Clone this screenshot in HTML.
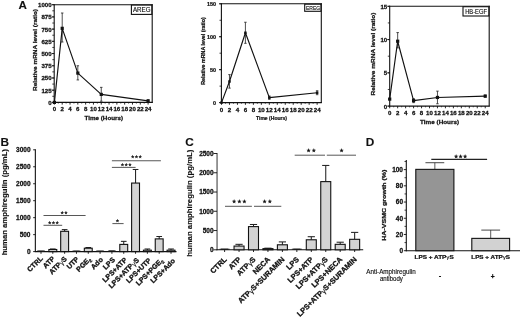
<!DOCTYPE html>
<html lang="en">
<head>
<meta charset="utf-8">
<title>Figure</title>
<style>
html,body{margin:0;padding:0;background:#fff;}
body{width:520px;height:317px;overflow:hidden;font-family:"Liberation Sans", Arial, sans-serif;}
svg{display:block;font-family:"Liberation Sans", Arial, sans-serif;filter:blur(0.35px);}
</style>
</head>
<body>
<svg width="520" height="317" viewBox="0 0 520 317">
<rect width="520" height="317" fill="#fff"/>
<g id="panelA">
<text x="22.75" y="9.00" font-size="11.6" font-weight="bold" text-anchor="middle" fill="#111" stroke="#111" stroke-width="0.120" >A</text>
<line x1="54.20" y1="4.20" x2="54.20" y2="102.90" stroke="#111" stroke-width="1.1" />
<line x1="53.70" y1="102.40" x2="152.70" y2="102.40" stroke="#111" stroke-width="1.1" />
<line x1="53.70" y1="4.70" x2="152.70" y2="4.70" stroke="#111" stroke-width="1.1" />
<line x1="152.20" y1="4.20" x2="152.20" y2="102.90" stroke="#111" stroke-width="1.1" />
<line x1="51.80" y1="102.40" x2="54.20" y2="102.40" stroke="#111" stroke-width="0.9" />
<text x="51.60" y="104.90" font-size="6.1" font-weight="bold" text-anchor="end" fill="#111" stroke="#111" stroke-width="0.256" >0</text>
<line x1="51.80" y1="90.19" x2="54.20" y2="90.19" stroke="#111" stroke-width="0.9" />
<text x="51.60" y="92.68" font-size="6.1" font-weight="bold" text-anchor="end" fill="#111" stroke="#111" stroke-width="0.256" >125</text>
<line x1="51.80" y1="77.98" x2="54.20" y2="77.98" stroke="#111" stroke-width="0.9" />
<text x="51.60" y="80.47" font-size="6.1" font-weight="bold" text-anchor="end" fill="#111" stroke="#111" stroke-width="0.256" >250</text>
<line x1="51.80" y1="65.76" x2="54.20" y2="65.76" stroke="#111" stroke-width="0.9" />
<text x="51.60" y="68.26" font-size="6.1" font-weight="bold" text-anchor="end" fill="#111" stroke="#111" stroke-width="0.256" >375</text>
<line x1="51.80" y1="53.55" x2="54.20" y2="53.55" stroke="#111" stroke-width="0.9" />
<text x="51.60" y="56.05" font-size="6.1" font-weight="bold" text-anchor="end" fill="#111" stroke="#111" stroke-width="0.256" >500</text>
<line x1="51.80" y1="41.34" x2="54.20" y2="41.34" stroke="#111" stroke-width="0.9" />
<text x="51.60" y="43.83" font-size="6.1" font-weight="bold" text-anchor="end" fill="#111" stroke="#111" stroke-width="0.256" >625</text>
<line x1="51.80" y1="29.12" x2="54.20" y2="29.12" stroke="#111" stroke-width="0.9" />
<text x="51.60" y="31.62" font-size="6.1" font-weight="bold" text-anchor="end" fill="#111" stroke="#111" stroke-width="0.256" >750</text>
<line x1="51.80" y1="16.91" x2="54.20" y2="16.91" stroke="#111" stroke-width="0.9" />
<text x="51.60" y="19.41" font-size="6.1" font-weight="bold" text-anchor="end" fill="#111" stroke="#111" stroke-width="0.256" >875</text>
<line x1="51.80" y1="4.70" x2="54.20" y2="4.70" stroke="#111" stroke-width="0.9" />
<text x="51.60" y="7.20" font-size="6.1" font-weight="bold" text-anchor="end" fill="#111" stroke="#111" stroke-width="0.256" >1000</text>
<line x1="52.30" y1="102.40" x2="54.20" y2="102.40" stroke="#111" stroke-width="0.8" />
<line x1="52.30" y1="96.29" x2="54.20" y2="96.29" stroke="#111" stroke-width="0.8" />
<line x1="52.30" y1="90.19" x2="54.20" y2="90.19" stroke="#111" stroke-width="0.8" />
<line x1="52.30" y1="84.08" x2="54.20" y2="84.08" stroke="#111" stroke-width="0.8" />
<line x1="52.30" y1="77.98" x2="54.20" y2="77.98" stroke="#111" stroke-width="0.8" />
<line x1="52.30" y1="71.87" x2="54.20" y2="71.87" stroke="#111" stroke-width="0.8" />
<line x1="52.30" y1="65.76" x2="54.20" y2="65.76" stroke="#111" stroke-width="0.8" />
<line x1="52.30" y1="59.66" x2="54.20" y2="59.66" stroke="#111" stroke-width="0.8" />
<line x1="52.30" y1="53.55" x2="54.20" y2="53.55" stroke="#111" stroke-width="0.8" />
<line x1="52.30" y1="47.44" x2="54.20" y2="47.44" stroke="#111" stroke-width="0.8" />
<line x1="52.30" y1="41.34" x2="54.20" y2="41.34" stroke="#111" stroke-width="0.8" />
<line x1="52.30" y1="35.23" x2="54.20" y2="35.23" stroke="#111" stroke-width="0.8" />
<line x1="52.30" y1="29.12" x2="54.20" y2="29.12" stroke="#111" stroke-width="0.8" />
<line x1="52.30" y1="23.02" x2="54.20" y2="23.02" stroke="#111" stroke-width="0.8" />
<line x1="52.30" y1="16.91" x2="54.20" y2="16.91" stroke="#111" stroke-width="0.8" />
<line x1="52.30" y1="10.81" x2="54.20" y2="10.81" stroke="#111" stroke-width="0.8" />
<line x1="52.30" y1="4.70" x2="54.20" y2="4.70" stroke="#111" stroke-width="0.8" />
<line x1="54.40" y1="102.40" x2="54.40" y2="104.60" stroke="#111" stroke-width="0.9" />
<text x="54.40" y="111.20" font-size="6.1" font-weight="bold" text-anchor="middle" fill="#111" stroke="#111" stroke-width="0.256" >0</text>
<line x1="62.21" y1="102.40" x2="62.21" y2="104.60" stroke="#111" stroke-width="0.9" />
<text x="62.21" y="111.20" font-size="6.1" font-weight="bold" text-anchor="middle" fill="#111" stroke="#111" stroke-width="0.256" >2</text>
<line x1="70.02" y1="102.40" x2="70.02" y2="104.60" stroke="#111" stroke-width="0.9" />
<text x="70.02" y="111.20" font-size="6.1" font-weight="bold" text-anchor="middle" fill="#111" stroke="#111" stroke-width="0.256" >4</text>
<line x1="77.82" y1="102.40" x2="77.82" y2="104.60" stroke="#111" stroke-width="0.9" />
<text x="77.82" y="111.20" font-size="6.1" font-weight="bold" text-anchor="middle" fill="#111" stroke="#111" stroke-width="0.256" >6</text>
<line x1="85.63" y1="102.40" x2="85.63" y2="104.60" stroke="#111" stroke-width="0.9" />
<text x="85.63" y="111.20" font-size="6.1" font-weight="bold" text-anchor="middle" fill="#111" stroke="#111" stroke-width="0.256" >8</text>
<line x1="93.44" y1="102.40" x2="93.44" y2="104.60" stroke="#111" stroke-width="0.9" />
<text x="93.44" y="111.20" font-size="6.1" font-weight="bold" text-anchor="middle" fill="#111" stroke="#111" stroke-width="0.256" >10</text>
<line x1="101.25" y1="102.40" x2="101.25" y2="104.60" stroke="#111" stroke-width="0.9" />
<text x="101.25" y="111.20" font-size="6.1" font-weight="bold" text-anchor="middle" fill="#111" stroke="#111" stroke-width="0.256" >12</text>
<line x1="109.06" y1="102.40" x2="109.06" y2="104.60" stroke="#111" stroke-width="0.9" />
<text x="109.06" y="111.20" font-size="6.1" font-weight="bold" text-anchor="middle" fill="#111" stroke="#111" stroke-width="0.256" >14</text>
<line x1="116.86" y1="102.40" x2="116.86" y2="104.60" stroke="#111" stroke-width="0.9" />
<text x="116.86" y="111.20" font-size="6.1" font-weight="bold" text-anchor="middle" fill="#111" stroke="#111" stroke-width="0.256" >16</text>
<line x1="124.67" y1="102.40" x2="124.67" y2="104.60" stroke="#111" stroke-width="0.9" />
<text x="124.67" y="111.20" font-size="6.1" font-weight="bold" text-anchor="middle" fill="#111" stroke="#111" stroke-width="0.256" >18</text>
<line x1="132.48" y1="102.40" x2="132.48" y2="104.60" stroke="#111" stroke-width="0.9" />
<text x="132.48" y="111.20" font-size="6.1" font-weight="bold" text-anchor="middle" fill="#111" stroke="#111" stroke-width="0.256" >20</text>
<line x1="140.29" y1="102.40" x2="140.29" y2="104.60" stroke="#111" stroke-width="0.9" />
<text x="140.29" y="111.20" font-size="6.1" font-weight="bold" text-anchor="middle" fill="#111" stroke="#111" stroke-width="0.256" >22</text>
<line x1="148.10" y1="102.40" x2="148.10" y2="104.60" stroke="#111" stroke-width="0.9" />
<text x="148.10" y="111.20" font-size="6.1" font-weight="bold" text-anchor="middle" fill="#111" stroke="#111" stroke-width="0.256" >24</text>
<line x1="58.30" y1="102.40" x2="58.30" y2="103.70" stroke="#111" stroke-width="0.6" />
<line x1="66.11" y1="102.40" x2="66.11" y2="103.70" stroke="#111" stroke-width="0.6" />
<line x1="73.92" y1="102.40" x2="73.92" y2="103.70" stroke="#111" stroke-width="0.6" />
<line x1="81.73" y1="102.40" x2="81.73" y2="103.70" stroke="#111" stroke-width="0.6" />
<line x1="89.54" y1="102.40" x2="89.54" y2="103.70" stroke="#111" stroke-width="0.6" />
<line x1="97.34" y1="102.40" x2="97.34" y2="103.70" stroke="#111" stroke-width="0.6" />
<line x1="105.15" y1="102.40" x2="105.15" y2="103.70" stroke="#111" stroke-width="0.6" />
<line x1="112.96" y1="102.40" x2="112.96" y2="103.70" stroke="#111" stroke-width="0.6" />
<line x1="120.77" y1="102.40" x2="120.77" y2="103.70" stroke="#111" stroke-width="0.6" />
<line x1="128.58" y1="102.40" x2="128.58" y2="103.70" stroke="#111" stroke-width="0.6" />
<line x1="136.38" y1="102.40" x2="136.38" y2="103.70" stroke="#111" stroke-width="0.6" />
<line x1="144.19" y1="102.40" x2="144.19" y2="103.70" stroke="#111" stroke-width="0.6" />
<text x="103.80" y="119.70" font-size="6.1" font-weight="bold" text-anchor="middle" fill="#111" stroke="#111" stroke-width="0.256" textLength="38.50" lengthAdjust="spacingAndGlyphs" >Time (Hours)</text>
<text x="35.30" y="50.00" font-size="6.1" font-weight="bold" text-anchor="middle" fill="#111" stroke="#111" stroke-width="0.256" transform="rotate(-90 35.30 50.00)" textLength="82.00" lengthAdjust="spacingAndGlyphs" dy="0.36em">Relative mRNA level (ratio)</text>
<line x1="54.40" y1="102.40" x2="54.40" y2="102.40" stroke="#222" stroke-width="0.8" />
<line x1="53.15" y1="102.40" x2="55.65" y2="102.40" stroke="#222" stroke-width="0.8" />
<line x1="53.15" y1="102.40" x2="55.65" y2="102.40" stroke="#222" stroke-width="0.8" />
<line x1="62.21" y1="13.00" x2="62.21" y2="42.02" stroke="#222" stroke-width="0.8" />
<line x1="60.96" y1="13.00" x2="63.46" y2="13.00" stroke="#222" stroke-width="0.8" />
<line x1="60.96" y1="42.02" x2="63.46" y2="42.02" stroke="#222" stroke-width="0.8" />
<line x1="77.82" y1="65.76" x2="77.82" y2="79.93" stroke="#222" stroke-width="0.8" />
<line x1="76.57" y1="65.76" x2="79.07" y2="65.76" stroke="#222" stroke-width="0.8" />
<line x1="76.57" y1="79.93" x2="79.07" y2="79.93" stroke="#222" stroke-width="0.8" />
<line x1="101.25" y1="87.35" x2="101.25" y2="101.23" stroke="#222" stroke-width="0.8" />
<line x1="100.00" y1="87.35" x2="102.50" y2="87.35" stroke="#222" stroke-width="0.8" />
<line x1="100.00" y1="101.23" x2="102.50" y2="101.23" stroke="#222" stroke-width="0.8" />
<line x1="148.10" y1="99.76" x2="148.10" y2="101.91" stroke="#222" stroke-width="0.8" />
<line x1="146.85" y1="99.76" x2="149.35" y2="99.76" stroke="#222" stroke-width="0.8" />
<line x1="146.85" y1="101.91" x2="149.35" y2="101.91" stroke="#222" stroke-width="0.8" />
<path d="M54.40 102.40 L62.21 28.34 L77.82 73.09 L101.25 94.39 L148.10 100.93" fill="none" stroke="#111" stroke-width="1.15" stroke-linejoin="round"/>
<rect x="52.80" y="100.80" width="3.2" height="3.2" fill="#111"/>
<rect x="60.61" y="26.74" width="3.2" height="3.2" fill="#111"/>
<rect x="76.22" y="71.49" width="3.2" height="3.2" fill="#111"/>
<rect x="99.65" y="92.79" width="3.2" height="3.2" fill="#111"/>
<rect x="146.50" y="99.33" width="3.2" height="3.2" fill="#111"/>
<rect x="131.40" y="5.10" width="20.40" height="9.30" fill="#fff" stroke="#111" stroke-width="1.1"/>
<text x="141.75" y="12.20" font-size="6.4" font-weight="normal" text-anchor="middle" fill="#111" stroke="#111" stroke-width="0.141" textLength="17.50" lengthAdjust="spacingAndGlyphs" >AREG</text>
</g>
<g id="panelA2">
<line x1="221.40" y1="3.30" x2="221.40" y2="103.10" stroke="#111" stroke-width="1.1" />
<line x1="220.90" y1="102.60" x2="321.80" y2="102.60" stroke="#111" stroke-width="1.1" />
<line x1="220.90" y1="3.80" x2="321.80" y2="3.80" stroke="#111" stroke-width="1.1" />
<line x1="321.30" y1="3.30" x2="321.30" y2="103.10" stroke="#111" stroke-width="1.1" />
<line x1="219.00" y1="102.60" x2="221.40" y2="102.60" stroke="#111" stroke-width="0.9" />
<text x="216.00" y="104.84" font-size="5.4" font-weight="bold" text-anchor="end" fill="#111" stroke="#111" stroke-width="0.227" >0</text>
<line x1="219.00" y1="69.67" x2="221.40" y2="69.67" stroke="#111" stroke-width="0.9" />
<text x="216.00" y="71.91" font-size="5.4" font-weight="bold" text-anchor="end" fill="#111" stroke="#111" stroke-width="0.227" >50</text>
<line x1="219.00" y1="36.73" x2="221.40" y2="36.73" stroke="#111" stroke-width="0.9" />
<text x="216.00" y="38.98" font-size="5.4" font-weight="bold" text-anchor="end" fill="#111" stroke="#111" stroke-width="0.227" >100</text>
<line x1="219.00" y1="3.80" x2="221.40" y2="3.80" stroke="#111" stroke-width="0.9" />
<text x="216.00" y="6.04" font-size="5.4" font-weight="bold" text-anchor="end" fill="#111" stroke="#111" stroke-width="0.227" >150</text>
<line x1="219.50" y1="102.60" x2="221.40" y2="102.60" stroke="#111" stroke-width="0.8" />
<line x1="219.50" y1="86.13" x2="221.40" y2="86.13" stroke="#111" stroke-width="0.8" />
<line x1="219.50" y1="69.67" x2="221.40" y2="69.67" stroke="#111" stroke-width="0.8" />
<line x1="219.50" y1="53.20" x2="221.40" y2="53.20" stroke="#111" stroke-width="0.8" />
<line x1="219.50" y1="36.73" x2="221.40" y2="36.73" stroke="#111" stroke-width="0.8" />
<line x1="219.50" y1="20.27" x2="221.40" y2="20.27" stroke="#111" stroke-width="0.8" />
<line x1="219.50" y1="3.80" x2="221.40" y2="3.80" stroke="#111" stroke-width="0.8" />
<line x1="221.50" y1="102.60" x2="221.50" y2="104.80" stroke="#111" stroke-width="0.9" />
<text x="221.50" y="111.73" font-size="6.2" font-weight="bold" text-anchor="middle" fill="#111" stroke="#111" stroke-width="0.260" >0</text>
<line x1="229.47" y1="102.60" x2="229.47" y2="104.80" stroke="#111" stroke-width="0.9" />
<text x="229.47" y="111.73" font-size="6.2" font-weight="bold" text-anchor="middle" fill="#111" stroke="#111" stroke-width="0.260" >2</text>
<line x1="237.44" y1="102.60" x2="237.44" y2="104.80" stroke="#111" stroke-width="0.9" />
<text x="237.44" y="111.73" font-size="6.2" font-weight="bold" text-anchor="middle" fill="#111" stroke="#111" stroke-width="0.260" >4</text>
<line x1="245.41" y1="102.60" x2="245.41" y2="104.80" stroke="#111" stroke-width="0.9" />
<text x="245.41" y="111.73" font-size="6.2" font-weight="bold" text-anchor="middle" fill="#111" stroke="#111" stroke-width="0.260" >6</text>
<line x1="253.38" y1="102.60" x2="253.38" y2="104.80" stroke="#111" stroke-width="0.9" />
<text x="253.38" y="111.73" font-size="6.2" font-weight="bold" text-anchor="middle" fill="#111" stroke="#111" stroke-width="0.260" >8</text>
<line x1="261.35" y1="102.60" x2="261.35" y2="104.80" stroke="#111" stroke-width="0.9" />
<text x="261.35" y="111.73" font-size="6.2" font-weight="bold" text-anchor="middle" fill="#111" stroke="#111" stroke-width="0.260" >10</text>
<line x1="269.32" y1="102.60" x2="269.32" y2="104.80" stroke="#111" stroke-width="0.9" />
<text x="269.32" y="111.73" font-size="6.2" font-weight="bold" text-anchor="middle" fill="#111" stroke="#111" stroke-width="0.260" >12</text>
<line x1="277.29" y1="102.60" x2="277.29" y2="104.80" stroke="#111" stroke-width="0.9" />
<text x="277.29" y="111.73" font-size="6.2" font-weight="bold" text-anchor="middle" fill="#111" stroke="#111" stroke-width="0.260" >14</text>
<line x1="285.26" y1="102.60" x2="285.26" y2="104.80" stroke="#111" stroke-width="0.9" />
<text x="285.26" y="111.73" font-size="6.2" font-weight="bold" text-anchor="middle" fill="#111" stroke="#111" stroke-width="0.260" >16</text>
<line x1="293.23" y1="102.60" x2="293.23" y2="104.80" stroke="#111" stroke-width="0.9" />
<text x="293.23" y="111.73" font-size="6.2" font-weight="bold" text-anchor="middle" fill="#111" stroke="#111" stroke-width="0.260" >18</text>
<line x1="301.20" y1="102.60" x2="301.20" y2="104.80" stroke="#111" stroke-width="0.9" />
<text x="301.20" y="111.73" font-size="6.2" font-weight="bold" text-anchor="middle" fill="#111" stroke="#111" stroke-width="0.260" >20</text>
<line x1="309.17" y1="102.60" x2="309.17" y2="104.80" stroke="#111" stroke-width="0.9" />
<text x="309.17" y="111.73" font-size="6.2" font-weight="bold" text-anchor="middle" fill="#111" stroke="#111" stroke-width="0.260" >22</text>
<line x1="317.14" y1="102.60" x2="317.14" y2="104.80" stroke="#111" stroke-width="0.9" />
<text x="317.14" y="111.73" font-size="6.2" font-weight="bold" text-anchor="middle" fill="#111" stroke="#111" stroke-width="0.260" >24</text>
<line x1="225.49" y1="102.60" x2="225.49" y2="103.90" stroke="#111" stroke-width="0.6" />
<line x1="233.46" y1="102.60" x2="233.46" y2="103.90" stroke="#111" stroke-width="0.6" />
<line x1="241.43" y1="102.60" x2="241.43" y2="103.90" stroke="#111" stroke-width="0.6" />
<line x1="249.40" y1="102.60" x2="249.40" y2="103.90" stroke="#111" stroke-width="0.6" />
<line x1="257.37" y1="102.60" x2="257.37" y2="103.90" stroke="#111" stroke-width="0.6" />
<line x1="265.33" y1="102.60" x2="265.33" y2="103.90" stroke="#111" stroke-width="0.6" />
<line x1="273.31" y1="102.60" x2="273.31" y2="103.90" stroke="#111" stroke-width="0.6" />
<line x1="281.27" y1="102.60" x2="281.27" y2="103.90" stroke="#111" stroke-width="0.6" />
<line x1="289.25" y1="102.60" x2="289.25" y2="103.90" stroke="#111" stroke-width="0.6" />
<line x1="297.22" y1="102.60" x2="297.22" y2="103.90" stroke="#111" stroke-width="0.6" />
<line x1="305.19" y1="102.60" x2="305.19" y2="103.90" stroke="#111" stroke-width="0.6" />
<line x1="313.15" y1="102.60" x2="313.15" y2="103.90" stroke="#111" stroke-width="0.6" />
<text x="271.50" y="119.71" font-size="5.3" font-weight="bold" text-anchor="middle" fill="#111" stroke="#111" stroke-width="0.223" textLength="31.00" lengthAdjust="spacingAndGlyphs" >Time (Hours)</text>
<text x="203.00" y="51.00" font-size="5.3" font-weight="bold" text-anchor="middle" fill="#111" stroke="#111" stroke-width="0.223" transform="rotate(-90 203.00 51.00)" textLength="67.50" lengthAdjust="spacingAndGlyphs" dy="0.36em">Relative mRNA level (ratio)</text>
<line x1="221.50" y1="102.60" x2="221.50" y2="102.60" stroke="#222" stroke-width="0.8" />
<line x1="220.25" y1="102.60" x2="222.75" y2="102.60" stroke="#222" stroke-width="0.8" />
<line x1="220.25" y1="102.60" x2="222.75" y2="102.60" stroke="#222" stroke-width="0.8" />
<line x1="229.47" y1="74.61" x2="229.47" y2="88.11" stroke="#222" stroke-width="0.8" />
<line x1="228.22" y1="74.61" x2="230.72" y2="74.61" stroke="#222" stroke-width="0.8" />
<line x1="228.22" y1="88.11" x2="230.72" y2="88.11" stroke="#222" stroke-width="0.8" />
<line x1="245.41" y1="22.24" x2="245.41" y2="43.32" stroke="#222" stroke-width="0.8" />
<line x1="244.16" y1="22.24" x2="246.66" y2="22.24" stroke="#222" stroke-width="0.8" />
<line x1="244.16" y1="43.32" x2="246.66" y2="43.32" stroke="#222" stroke-width="0.8" />
<line x1="269.32" y1="96.01" x2="269.32" y2="99.31" stroke="#222" stroke-width="0.8" />
<line x1="268.07" y1="96.01" x2="270.57" y2="96.01" stroke="#222" stroke-width="0.8" />
<line x1="268.07" y1="99.31" x2="270.57" y2="99.31" stroke="#222" stroke-width="0.8" />
<line x1="317.14" y1="90.74" x2="317.14" y2="94.70" stroke="#222" stroke-width="0.8" />
<line x1="315.89" y1="90.74" x2="318.39" y2="90.74" stroke="#222" stroke-width="0.8" />
<line x1="315.89" y1="94.70" x2="318.39" y2="94.70" stroke="#222" stroke-width="0.8" />
<path d="M221.50 102.60 L229.47 81.52 L245.41 32.78 L269.32 97.66 L317.14 92.72" fill="none" stroke="#111" stroke-width="1.15" stroke-linejoin="round"/>
<rect x="220.25" y="101.35" width="2.5" height="2.5" fill="#111"/>
<rect x="228.22" y="80.27" width="2.5" height="2.5" fill="#111"/>
<rect x="244.16" y="31.53" width="2.5" height="2.5" fill="#111"/>
<rect x="268.07" y="96.41" width="2.5" height="2.5" fill="#111"/>
<rect x="315.89" y="91.47" width="2.5" height="2.5" fill="#111"/>
<rect x="304.70" y="4.20" width="16.20" height="7.10" fill="#fff" stroke="#111" stroke-width="1.1"/>
<text x="313.10" y="9.82" font-size="5.9" font-weight="normal" text-anchor="middle" fill="#111" stroke="#111" stroke-width="0.130" textLength="14.20" lengthAdjust="spacingAndGlyphs" >EREG</text>
</g>
<g id="panelA3">
<line x1="389.70" y1="5.80" x2="389.70" y2="106.60" stroke="#111" stroke-width="1.1" />
<line x1="389.20" y1="106.10" x2="489.70" y2="106.10" stroke="#111" stroke-width="1.1" />
<line x1="389.20" y1="6.30" x2="489.70" y2="6.30" stroke="#111" stroke-width="1.1" />
<line x1="489.20" y1="5.80" x2="489.20" y2="106.60" stroke="#111" stroke-width="1.1" />
<line x1="387.30" y1="106.10" x2="389.70" y2="106.10" stroke="#111" stroke-width="0.9" />
<text x="387.20" y="108.60" font-size="6.1" font-weight="bold" text-anchor="end" fill="#111" stroke="#111" stroke-width="0.256" >0</text>
<line x1="387.30" y1="72.83" x2="389.70" y2="72.83" stroke="#111" stroke-width="0.9" />
<text x="387.20" y="75.33" font-size="6.1" font-weight="bold" text-anchor="end" fill="#111" stroke="#111" stroke-width="0.256" >5</text>
<line x1="387.30" y1="39.57" x2="389.70" y2="39.57" stroke="#111" stroke-width="0.9" />
<text x="387.20" y="42.06" font-size="6.1" font-weight="bold" text-anchor="end" fill="#111" stroke="#111" stroke-width="0.256" >10</text>
<line x1="387.30" y1="6.30" x2="389.70" y2="6.30" stroke="#111" stroke-width="0.9" />
<text x="387.20" y="8.80" font-size="6.1" font-weight="bold" text-anchor="end" fill="#111" stroke="#111" stroke-width="0.256" >15</text>
<line x1="387.80" y1="106.10" x2="389.70" y2="106.10" stroke="#111" stroke-width="0.8" />
<line x1="387.80" y1="89.47" x2="389.70" y2="89.47" stroke="#111" stroke-width="0.8" />
<line x1="387.80" y1="72.83" x2="389.70" y2="72.83" stroke="#111" stroke-width="0.8" />
<line x1="387.80" y1="56.20" x2="389.70" y2="56.20" stroke="#111" stroke-width="0.8" />
<line x1="387.80" y1="39.57" x2="389.70" y2="39.57" stroke="#111" stroke-width="0.8" />
<line x1="387.80" y1="22.93" x2="389.70" y2="22.93" stroke="#111" stroke-width="0.8" />
<line x1="387.80" y1="6.30" x2="389.70" y2="6.30" stroke="#111" stroke-width="0.8" />
<line x1="389.70" y1="106.10" x2="389.70" y2="108.30" stroke="#111" stroke-width="0.9" />
<text x="389.70" y="114.70" font-size="6.1" font-weight="bold" text-anchor="middle" fill="#111" stroke="#111" stroke-width="0.256" >0</text>
<line x1="397.66" y1="106.10" x2="397.66" y2="108.30" stroke="#111" stroke-width="0.9" />
<text x="397.66" y="114.70" font-size="6.1" font-weight="bold" text-anchor="middle" fill="#111" stroke="#111" stroke-width="0.256" >2</text>
<line x1="405.62" y1="106.10" x2="405.62" y2="108.30" stroke="#111" stroke-width="0.9" />
<text x="405.62" y="114.70" font-size="6.1" font-weight="bold" text-anchor="middle" fill="#111" stroke="#111" stroke-width="0.256" >4</text>
<line x1="413.58" y1="106.10" x2="413.58" y2="108.30" stroke="#111" stroke-width="0.9" />
<text x="413.58" y="114.70" font-size="6.1" font-weight="bold" text-anchor="middle" fill="#111" stroke="#111" stroke-width="0.256" >6</text>
<line x1="421.54" y1="106.10" x2="421.54" y2="108.30" stroke="#111" stroke-width="0.9" />
<text x="421.54" y="114.70" font-size="6.1" font-weight="bold" text-anchor="middle" fill="#111" stroke="#111" stroke-width="0.256" >8</text>
<line x1="429.50" y1="106.10" x2="429.50" y2="108.30" stroke="#111" stroke-width="0.9" />
<text x="429.50" y="114.70" font-size="6.1" font-weight="bold" text-anchor="middle" fill="#111" stroke="#111" stroke-width="0.256" >10</text>
<line x1="437.46" y1="106.10" x2="437.46" y2="108.30" stroke="#111" stroke-width="0.9" />
<text x="437.46" y="114.70" font-size="6.1" font-weight="bold" text-anchor="middle" fill="#111" stroke="#111" stroke-width="0.256" >12</text>
<line x1="445.42" y1="106.10" x2="445.42" y2="108.30" stroke="#111" stroke-width="0.9" />
<text x="445.42" y="114.70" font-size="6.1" font-weight="bold" text-anchor="middle" fill="#111" stroke="#111" stroke-width="0.256" >14</text>
<line x1="453.38" y1="106.10" x2="453.38" y2="108.30" stroke="#111" stroke-width="0.9" />
<text x="453.38" y="114.70" font-size="6.1" font-weight="bold" text-anchor="middle" fill="#111" stroke="#111" stroke-width="0.256" >16</text>
<line x1="461.34" y1="106.10" x2="461.34" y2="108.30" stroke="#111" stroke-width="0.9" />
<text x="461.34" y="114.70" font-size="6.1" font-weight="bold" text-anchor="middle" fill="#111" stroke="#111" stroke-width="0.256" >18</text>
<line x1="469.30" y1="106.10" x2="469.30" y2="108.30" stroke="#111" stroke-width="0.9" />
<text x="469.30" y="114.70" font-size="6.1" font-weight="bold" text-anchor="middle" fill="#111" stroke="#111" stroke-width="0.256" >20</text>
<line x1="477.26" y1="106.10" x2="477.26" y2="108.30" stroke="#111" stroke-width="0.9" />
<text x="477.26" y="114.70" font-size="6.1" font-weight="bold" text-anchor="middle" fill="#111" stroke="#111" stroke-width="0.256" >22</text>
<line x1="485.22" y1="106.10" x2="485.22" y2="108.30" stroke="#111" stroke-width="0.9" />
<text x="485.22" y="114.70" font-size="6.1" font-weight="bold" text-anchor="middle" fill="#111" stroke="#111" stroke-width="0.256" >24</text>
<line x1="393.68" y1="106.10" x2="393.68" y2="107.40" stroke="#111" stroke-width="0.6" />
<line x1="401.64" y1="106.10" x2="401.64" y2="107.40" stroke="#111" stroke-width="0.6" />
<line x1="409.60" y1="106.10" x2="409.60" y2="107.40" stroke="#111" stroke-width="0.6" />
<line x1="417.56" y1="106.10" x2="417.56" y2="107.40" stroke="#111" stroke-width="0.6" />
<line x1="425.52" y1="106.10" x2="425.52" y2="107.40" stroke="#111" stroke-width="0.6" />
<line x1="433.48" y1="106.10" x2="433.48" y2="107.40" stroke="#111" stroke-width="0.6" />
<line x1="441.44" y1="106.10" x2="441.44" y2="107.40" stroke="#111" stroke-width="0.6" />
<line x1="449.40" y1="106.10" x2="449.40" y2="107.40" stroke="#111" stroke-width="0.6" />
<line x1="457.36" y1="106.10" x2="457.36" y2="107.40" stroke="#111" stroke-width="0.6" />
<line x1="465.32" y1="106.10" x2="465.32" y2="107.40" stroke="#111" stroke-width="0.6" />
<line x1="473.28" y1="106.10" x2="473.28" y2="107.40" stroke="#111" stroke-width="0.6" />
<line x1="481.24" y1="106.10" x2="481.24" y2="107.40" stroke="#111" stroke-width="0.6" />
<text x="439.60" y="124.00" font-size="6.1" font-weight="bold" text-anchor="middle" fill="#111" stroke="#111" stroke-width="0.256" textLength="39.00" lengthAdjust="spacingAndGlyphs" >Time (Hours)</text>
<text x="372.90" y="54.00" font-size="6.1" font-weight="bold" text-anchor="middle" fill="#111" stroke="#111" stroke-width="0.256" transform="rotate(-90 372.90 54.00)" textLength="83.00" lengthAdjust="spacingAndGlyphs" dy="0.36em">Relative mRNA level (ratio)</text>
<line x1="389.70" y1="99.11" x2="389.70" y2="99.11" stroke="#222" stroke-width="0.8" />
<line x1="388.45" y1="99.11" x2="390.95" y2="99.11" stroke="#222" stroke-width="0.8" />
<line x1="388.45" y1="99.11" x2="390.95" y2="99.11" stroke="#222" stroke-width="0.8" />
<line x1="397.66" y1="32.58" x2="397.66" y2="47.88" stroke="#222" stroke-width="0.8" />
<line x1="396.41" y1="32.58" x2="398.91" y2="32.58" stroke="#222" stroke-width="0.8" />
<line x1="396.41" y1="47.88" x2="398.91" y2="47.88" stroke="#222" stroke-width="0.8" />
<line x1="413.58" y1="98.65" x2="413.58" y2="102.64" stroke="#222" stroke-width="0.8" />
<line x1="412.33" y1="98.65" x2="414.83" y2="98.65" stroke="#222" stroke-width="0.8" />
<line x1="412.33" y1="102.64" x2="414.83" y2="102.64" stroke="#222" stroke-width="0.8" />
<line x1="437.46" y1="91.13" x2="437.46" y2="103.77" stroke="#222" stroke-width="0.8" />
<line x1="436.21" y1="91.13" x2="438.71" y2="91.13" stroke="#222" stroke-width="0.8" />
<line x1="436.21" y1="103.77" x2="438.71" y2="103.77" stroke="#222" stroke-width="0.8" />
<line x1="485.22" y1="95.12" x2="485.22" y2="97.12" stroke="#222" stroke-width="0.8" />
<line x1="483.97" y1="95.12" x2="486.47" y2="95.12" stroke="#222" stroke-width="0.8" />
<line x1="483.97" y1="97.12" x2="486.47" y2="97.12" stroke="#222" stroke-width="0.8" />
<path d="M389.70 99.11 L397.66 41.23 L413.58 100.64 L437.46 97.45 L485.22 96.12" fill="none" stroke="#111" stroke-width="1.15" stroke-linejoin="round"/>
<rect x="388.10" y="97.51" width="3.2" height="3.2" fill="#111"/>
<rect x="396.06" y="39.63" width="3.2" height="3.2" fill="#111"/>
<rect x="411.98" y="99.04" width="3.2" height="3.2" fill="#111"/>
<rect x="435.86" y="95.85" width="3.2" height="3.2" fill="#111"/>
<rect x="483.62" y="94.52" width="3.2" height="3.2" fill="#111"/>
<rect x="463.00" y="6.70" width="25.80" height="9.30" fill="#fff" stroke="#111" stroke-width="1.1"/>
<text x="476.10" y="13.79" font-size="6.5" font-weight="normal" text-anchor="middle" fill="#111" stroke="#111" stroke-width="0.143" textLength="21.80" lengthAdjust="spacingAndGlyphs" >HB-EGF</text>
</g>
<g id="panelB">
<text x="4.70" y="145.60" font-size="11.8" font-weight="bold" text-anchor="middle" fill="#111" stroke="#111" stroke-width="0.120" >B</text>
<line x1="35.35" y1="149.30" x2="35.35" y2="252.10" stroke="#111" stroke-width="1.1" />
<line x1="34.85" y1="251.60" x2="176.50" y2="251.60" stroke="#111" stroke-width="1.1" />
<line x1="33.15" y1="251.60" x2="35.35" y2="251.60" stroke="#111" stroke-width="0.9" />
<text x="30.50" y="253.94" font-size="6.5" font-weight="bold" text-anchor="end" fill="#111" stroke="#111" stroke-width="0.273" >0</text>
<line x1="33.15" y1="234.63" x2="35.35" y2="234.63" stroke="#111" stroke-width="0.9" />
<text x="30.50" y="236.97" font-size="6.5" font-weight="bold" text-anchor="end" fill="#111" stroke="#111" stroke-width="0.273" >500</text>
<line x1="33.15" y1="217.67" x2="35.35" y2="217.67" stroke="#111" stroke-width="0.9" />
<text x="30.50" y="220.01" font-size="6.5" font-weight="bold" text-anchor="end" fill="#111" stroke="#111" stroke-width="0.273" >1000</text>
<line x1="33.15" y1="200.70" x2="35.35" y2="200.70" stroke="#111" stroke-width="0.9" />
<text x="30.50" y="203.04" font-size="6.5" font-weight="bold" text-anchor="end" fill="#111" stroke="#111" stroke-width="0.273" >1500</text>
<line x1="33.15" y1="183.74" x2="35.35" y2="183.74" stroke="#111" stroke-width="0.9" />
<text x="30.50" y="186.08" font-size="6.5" font-weight="bold" text-anchor="end" fill="#111" stroke="#111" stroke-width="0.273" >2000</text>
<line x1="33.15" y1="166.77" x2="35.35" y2="166.77" stroke="#111" stroke-width="0.9" />
<text x="30.50" y="169.11" font-size="6.5" font-weight="bold" text-anchor="end" fill="#111" stroke="#111" stroke-width="0.273" >2500</text>
<line x1="33.15" y1="149.81" x2="35.35" y2="149.81" stroke="#111" stroke-width="0.9" />
<text x="30.50" y="152.15" font-size="6.5" font-weight="bold" text-anchor="end" fill="#111" stroke="#111" stroke-width="0.273" >3000</text>
<line x1="41.00" y1="251.23" x2="41.00" y2="251.33" stroke="#222" stroke-width="1.05" />
<line x1="38.16" y1="251.23" x2="43.84" y2="251.23" stroke="#222" stroke-width="1.05" />
<line x1="37.05" y1="251.00" x2="44.95" y2="251.00" stroke="#111" stroke-width="0.8" />
<line x1="41.00" y1="251.60" x2="41.00" y2="253.80" stroke="#111" stroke-width="0.9" />
<text x="43.30" y="259.00" font-size="7.05" font-weight="bold" text-anchor="end" fill="#111" stroke="#111" stroke-width="0.3" transform="rotate(-45 43.30 259.00)">CTRL</text>
<line x1="52.82" y1="248.99" x2="52.82" y2="249.50" stroke="#222" stroke-width="1.05" />
<line x1="49.98" y1="248.99" x2="55.66" y2="248.99" stroke="#222" stroke-width="1.05" />
<rect x="48.87" y="249.50" width="7.90" height="2.10" fill="#d3d3d3" stroke="#111" stroke-width="1.1"/>
<line x1="52.82" y1="251.60" x2="52.82" y2="253.80" stroke="#111" stroke-width="0.9" />
<text x="55.33" y="259.21" font-size="7.05" font-weight="bold" text-anchor="end" fill="#111" stroke="#111" stroke-width="0.3" transform="rotate(-45 55.33 259.21)">ATP</text>
<line x1="64.64" y1="229.61" x2="64.64" y2="231.31" stroke="#222" stroke-width="1.05" />
<line x1="61.80" y1="229.61" x2="67.48" y2="229.61" stroke="#222" stroke-width="1.05" />
<rect x="60.69" y="231.31" width="7.90" height="20.29" fill="#d3d3d3" stroke="#111" stroke-width="1.1"/>
<line x1="64.64" y1="251.60" x2="64.64" y2="253.80" stroke="#111" stroke-width="0.9" />
<text x="67.36" y="259.42" font-size="7.05" font-weight="bold" text-anchor="end" fill="#111" stroke="#111" stroke-width="0.3" transform="rotate(-45 67.36 259.42)">ATP<tspan font-weight="normal" stroke-width="0.1" dy="0.8">&#947;</tspan><tspan dy="-0.8">&#8203;</tspan>S</text>
<line x1="76.46" y1="251.29" x2="76.46" y2="251.40" stroke="#222" stroke-width="1.05" />
<line x1="73.62" y1="251.29" x2="79.30" y2="251.29" stroke="#222" stroke-width="1.05" />
<line x1="72.51" y1="251.00" x2="80.41" y2="251.00" stroke="#111" stroke-width="0.8" />
<line x1="76.46" y1="251.60" x2="76.46" y2="253.80" stroke="#111" stroke-width="0.9" />
<text x="79.39" y="259.63" font-size="7.05" font-weight="bold" text-anchor="end" fill="#111" stroke="#111" stroke-width="0.3" transform="rotate(-45 79.39 259.63)">UTP</text>
<line x1="88.28" y1="247.53" x2="88.28" y2="248.21" stroke="#222" stroke-width="1.05" />
<line x1="85.44" y1="247.53" x2="91.12" y2="247.53" stroke="#222" stroke-width="1.05" />
<rect x="84.33" y="248.21" width="7.90" height="3.39" fill="#d3d3d3" stroke="#111" stroke-width="1.1"/>
<line x1="88.28" y1="251.60" x2="88.28" y2="253.80" stroke="#111" stroke-width="0.9" />
<text x="91.42" y="259.84" font-size="7.05" font-weight="bold" text-anchor="end" fill="#111" stroke="#111" stroke-width="0.3" transform="rotate(-45 91.42 259.84)">PGE<tspan font-size="4.6" dy="1.6">2</tspan></text>
<line x1="100.10" y1="251.29" x2="100.10" y2="251.40" stroke="#222" stroke-width="1.05" />
<line x1="97.26" y1="251.29" x2="102.94" y2="251.29" stroke="#222" stroke-width="1.05" />
<line x1="96.15" y1="251.00" x2="104.05" y2="251.00" stroke="#111" stroke-width="0.8" />
<line x1="100.10" y1="251.60" x2="100.10" y2="253.80" stroke="#111" stroke-width="0.9" />
<text x="103.45" y="260.05" font-size="7.05" font-weight="bold" text-anchor="end" fill="#111" stroke="#111" stroke-width="0.3" transform="rotate(-45 103.45 260.05)">Ado</text>
<line x1="111.92" y1="250.96" x2="111.92" y2="251.12" stroke="#222" stroke-width="1.05" />
<line x1="109.08" y1="250.96" x2="114.76" y2="250.96" stroke="#222" stroke-width="1.05" />
<line x1="107.97" y1="251.00" x2="115.87" y2="251.00" stroke="#111" stroke-width="0.8" />
<line x1="111.92" y1="251.60" x2="111.92" y2="253.80" stroke="#111" stroke-width="0.9" />
<text x="115.48" y="260.26" font-size="7.05" font-weight="bold" text-anchor="end" fill="#111" stroke="#111" stroke-width="0.3" transform="rotate(-45 115.48 260.26)">LPS</text>
<line x1="123.74" y1="241.35" x2="123.74" y2="244.41" stroke="#222" stroke-width="1.05" />
<line x1="120.90" y1="241.35" x2="126.58" y2="241.35" stroke="#222" stroke-width="1.05" />
<rect x="119.79" y="244.41" width="7.90" height="7.19" fill="#d3d3d3" stroke="#111" stroke-width="1.1"/>
<line x1="123.74" y1="251.60" x2="123.74" y2="253.80" stroke="#111" stroke-width="0.9" />
<text x="127.51" y="260.47" font-size="7.05" font-weight="bold" text-anchor="end" fill="#111" stroke="#111" stroke-width="0.3" transform="rotate(-45 127.51 260.47)">LPS+ATP</text>
<line x1="135.56" y1="169.49" x2="135.56" y2="183.06" stroke="#222" stroke-width="1.05" />
<line x1="132.72" y1="169.49" x2="138.40" y2="169.49" stroke="#222" stroke-width="1.05" />
<rect x="131.61" y="183.06" width="7.90" height="68.54" fill="#d3d3d3" stroke="#111" stroke-width="1.1"/>
<line x1="135.56" y1="251.60" x2="135.56" y2="253.80" stroke="#111" stroke-width="0.9" />
<text x="139.54" y="260.68" font-size="7.05" font-weight="bold" text-anchor="end" fill="#111" stroke="#111" stroke-width="0.3" transform="rotate(-45 139.54 260.68)">LPS+ATP<tspan font-weight="normal" stroke-width="0.1" dy="0.8">&#947;</tspan><tspan dy="-0.8">&#8203;</tspan>S</text>
<line x1="147.38" y1="248.99" x2="147.38" y2="250.17" stroke="#222" stroke-width="1.05" />
<line x1="144.54" y1="248.99" x2="150.22" y2="248.99" stroke="#222" stroke-width="1.05" />
<rect x="143.43" y="250.17" width="7.90" height="1.43" fill="#d3d3d3" stroke="#111" stroke-width="1.1"/>
<line x1="147.38" y1="251.60" x2="147.38" y2="253.80" stroke="#111" stroke-width="0.9" />
<text x="151.57" y="260.89" font-size="7.05" font-weight="bold" text-anchor="end" fill="#111" stroke="#111" stroke-width="0.3" transform="rotate(-45 151.57 260.89)">LPS+UTP</text>
<line x1="159.20" y1="236.50" x2="159.20" y2="238.88" stroke="#222" stroke-width="1.05" />
<line x1="156.36" y1="236.50" x2="162.04" y2="236.50" stroke="#222" stroke-width="1.05" />
<rect x="155.25" y="238.88" width="7.90" height="12.72" fill="#d3d3d3" stroke="#111" stroke-width="1.1"/>
<line x1="159.20" y1="251.60" x2="159.20" y2="253.80" stroke="#111" stroke-width="0.9" />
<text x="163.60" y="261.10" font-size="7.05" font-weight="bold" text-anchor="end" fill="#111" stroke="#111" stroke-width="0.3" transform="rotate(-45 163.60 261.10)">LPS+PGE<tspan font-size="4.6" dy="1.6">2</tspan></text>
<line x1="171.02" y1="248.99" x2="171.02" y2="250.17" stroke="#222" stroke-width="1.05" />
<line x1="168.18" y1="248.99" x2="173.86" y2="248.99" stroke="#222" stroke-width="1.05" />
<rect x="167.07" y="250.17" width="7.90" height="1.43" fill="#d3d3d3" stroke="#111" stroke-width="1.1"/>
<line x1="171.02" y1="251.60" x2="171.02" y2="253.80" stroke="#111" stroke-width="0.9" />
<text x="175.63" y="261.31" font-size="7.05" font-weight="bold" text-anchor="end" fill="#111" stroke="#111" stroke-width="0.3" transform="rotate(-45 175.63 261.31)">LPS+Ado</text>
<text x="7.40" y="202.20" font-size="7.7" font-weight="bold" text-anchor="middle" fill="#111" stroke="#111" stroke-width="0.120" transform="rotate(-90 7.40 202.20)" textLength="106.30" lengthAdjust="spacingAndGlyphs" >human amphiregulin (pg/mL)</text>
<line x1="43.50" y1="215.50" x2="85.60" y2="215.50" stroke="#444" stroke-width="0.9" />
<text x="60.53" y="213.52" font-family="DejaVu Sans, sans-serif" font-size="3.8" letter-spacing="0.37" fill="#111" stroke="#111" stroke-width="0.35" stroke-linejoin="round">&#9733;&#9733;</text>
<line x1="43.50" y1="225.30" x2="62.20" y2="225.30" stroke="#444" stroke-width="0.9" />
<text x="47.96" y="223.52" font-family="DejaVu Sans, sans-serif" font-size="3.8" letter-spacing="0.37" fill="#111" stroke="#111" stroke-width="0.35" stroke-linejoin="round">&#9733;&#9733;&#9733;</text>
<line x1="112.40" y1="223.60" x2="123.60" y2="223.60" stroke="#444" stroke-width="0.9" />
<text x="115.71" y="221.82" font-family="DejaVu Sans, sans-serif" font-size="3.8" letter-spacing="0.37" fill="#111" stroke="#111" stroke-width="0.35" stroke-linejoin="round">&#9733;</text>
<line x1="111.90" y1="160.75" x2="160.90" y2="160.75" stroke="#444" stroke-width="0.9" />
<text x="130.96" y="158.42" font-family="DejaVu Sans, sans-serif" font-size="3.8" letter-spacing="0.37" fill="#111" stroke="#111" stroke-width="0.35" stroke-linejoin="round">&#9733;&#9733;&#9733;</text>
<line x1="111.90" y1="167.40" x2="135.60" y2="167.40" stroke="#444" stroke-width="0.9" />
<text x="120.76" y="165.72" font-family="DejaVu Sans, sans-serif" font-size="3.8" letter-spacing="0.37" fill="#111" stroke="#111" stroke-width="0.35" stroke-linejoin="round">&#9733;&#9733;&#9733;</text>
</g>
<g id="panelC">
<text x="189.40" y="145.70" font-size="11.8" font-weight="bold" text-anchor="middle" fill="#111" stroke="#111" stroke-width="0.120" >C</text>
<line x1="217.05" y1="153.00" x2="217.05" y2="250.30" stroke="#444" stroke-width="1.1" />
<line x1="216.55" y1="249.80" x2="363.20" y2="249.80" stroke="#111" stroke-width="1.1" />
<line x1="213.45" y1="249.80" x2="217.05" y2="249.80" stroke="#111" stroke-width="0.9" />
<text x="213.60" y="252.14" font-size="6.5" font-weight="bold" text-anchor="end" fill="#111" stroke="#111" stroke-width="0.273" >0</text>
<line x1="213.45" y1="230.54" x2="217.05" y2="230.54" stroke="#111" stroke-width="0.9" />
<text x="213.60" y="232.88" font-size="6.5" font-weight="bold" text-anchor="end" fill="#111" stroke="#111" stroke-width="0.273" >500</text>
<line x1="213.45" y1="211.28" x2="217.05" y2="211.28" stroke="#111" stroke-width="0.9" />
<text x="213.60" y="213.62" font-size="6.5" font-weight="bold" text-anchor="end" fill="#111" stroke="#111" stroke-width="0.273" >1000</text>
<line x1="213.45" y1="192.02" x2="217.05" y2="192.02" stroke="#111" stroke-width="0.9" />
<text x="213.60" y="194.36" font-size="6.5" font-weight="bold" text-anchor="end" fill="#111" stroke="#111" stroke-width="0.273" >1500</text>
<line x1="213.45" y1="172.76" x2="217.05" y2="172.76" stroke="#111" stroke-width="0.9" />
<text x="213.60" y="175.10" font-size="6.5" font-weight="bold" text-anchor="end" fill="#111" stroke="#111" stroke-width="0.273" >2000</text>
<line x1="213.45" y1="153.50" x2="217.05" y2="153.50" stroke="#111" stroke-width="0.9" />
<text x="213.60" y="155.84" font-size="6.5" font-weight="bold" text-anchor="end" fill="#111" stroke="#111" stroke-width="0.273" >2500</text>
<line x1="224.60" y1="249.18" x2="224.60" y2="249.34" stroke="#222" stroke-width="1.05" />
<line x1="221.00" y1="249.18" x2="228.20" y2="249.18" stroke="#222" stroke-width="1.05" />
<line x1="219.60" y1="249.20" x2="229.60" y2="249.20" stroke="#111" stroke-width="0.8" />
<line x1="224.60" y1="249.80" x2="224.60" y2="252.00" stroke="#111" stroke-width="0.9" />
<text x="227.20" y="259.90" font-size="7.45" font-weight="bold" text-anchor="end" fill="#111" stroke="#111" stroke-width="0.3" transform="rotate(-45 227.20 259.90)">CTRL</text>
<line x1="239.05" y1="244.33" x2="239.05" y2="246.06" stroke="#222" stroke-width="1.05" />
<line x1="235.45" y1="244.33" x2="242.65" y2="244.33" stroke="#222" stroke-width="1.05" />
<rect x="234.05" y="246.06" width="10.00" height="3.74" fill="#d3d3d3" stroke="#111" stroke-width="1.1"/>
<line x1="239.05" y1="249.80" x2="239.05" y2="252.00" stroke="#111" stroke-width="0.9" />
<text x="241.65" y="259.90" font-size="7.45" font-weight="bold" text-anchor="end" fill="#111" stroke="#111" stroke-width="0.3" transform="rotate(-45 241.65 259.90)">ATP</text>
<line x1="253.50" y1="224.49" x2="253.50" y2="226.61" stroke="#222" stroke-width="1.05" />
<line x1="249.90" y1="224.49" x2="257.10" y2="224.49" stroke="#222" stroke-width="1.05" />
<rect x="248.50" y="226.61" width="10.00" height="23.19" fill="#d3d3d3" stroke="#111" stroke-width="1.1"/>
<line x1="253.50" y1="249.80" x2="253.50" y2="252.00" stroke="#111" stroke-width="0.9" />
<text x="256.10" y="259.90" font-size="7.45" font-weight="bold" text-anchor="end" fill="#111" stroke="#111" stroke-width="0.3" transform="rotate(-45 256.10 259.90)">ATP<tspan font-weight="normal" stroke-width="0.1" dy="0.8">&#947;</tspan><tspan dy="-0.8">&#8203;</tspan>S</text>
<line x1="267.95" y1="248.18" x2="267.95" y2="248.64" stroke="#222" stroke-width="1.05" />
<line x1="264.35" y1="248.18" x2="271.55" y2="248.18" stroke="#222" stroke-width="1.05" />
<rect x="262.95" y="248.64" width="10.00" height="1.16" fill="#d3d3d3" stroke="#111" stroke-width="1.1"/>
<line x1="267.95" y1="249.80" x2="267.95" y2="252.00" stroke="#111" stroke-width="0.9" />
<text x="270.55" y="259.90" font-size="7.45" font-weight="bold" text-anchor="end" fill="#111" stroke="#111" stroke-width="0.3" transform="rotate(-45 270.55 259.90)">NECA</text>
<line x1="282.40" y1="241.90" x2="282.40" y2="244.79" stroke="#222" stroke-width="1.05" />
<line x1="278.80" y1="241.90" x2="286.00" y2="241.90" stroke="#222" stroke-width="1.05" />
<rect x="277.40" y="244.79" width="10.00" height="5.01" fill="#d3d3d3" stroke="#111" stroke-width="1.1"/>
<line x1="282.40" y1="249.80" x2="282.40" y2="252.00" stroke="#111" stroke-width="0.9" />
<text x="285.00" y="259.90" font-size="7.45" font-weight="bold" text-anchor="end" fill="#111" stroke="#111" stroke-width="0.3" transform="rotate(-45 285.00 259.90)">ATP<tspan font-weight="normal" stroke-width="0.1" dy="0.8">&#947;</tspan><tspan dy="-0.8">&#8203;</tspan>S+SURAMIN</text>
<line x1="296.85" y1="249.18" x2="296.85" y2="249.34" stroke="#222" stroke-width="1.05" />
<line x1="293.25" y1="249.18" x2="300.45" y2="249.18" stroke="#222" stroke-width="1.05" />
<line x1="291.85" y1="249.20" x2="301.85" y2="249.20" stroke="#111" stroke-width="0.8" />
<line x1="296.85" y1="249.80" x2="296.85" y2="252.00" stroke="#111" stroke-width="0.9" />
<text x="299.45" y="259.90" font-size="7.45" font-weight="bold" text-anchor="end" fill="#111" stroke="#111" stroke-width="0.3" transform="rotate(-45 299.45 259.90)">LPS</text>
<line x1="311.30" y1="236.70" x2="311.30" y2="239.78" stroke="#222" stroke-width="1.05" />
<line x1="307.70" y1="236.70" x2="314.90" y2="236.70" stroke="#222" stroke-width="1.05" />
<rect x="306.30" y="239.78" width="10.00" height="10.02" fill="#d3d3d3" stroke="#111" stroke-width="1.1"/>
<line x1="311.30" y1="249.80" x2="311.30" y2="252.00" stroke="#111" stroke-width="0.9" />
<text x="313.90" y="259.90" font-size="7.45" font-weight="bold" text-anchor="end" fill="#111" stroke="#111" stroke-width="0.3" transform="rotate(-45 313.90 259.90)">LPS+ATP</text>
<line x1="325.75" y1="165.44" x2="325.75" y2="181.62" stroke="#222" stroke-width="1.05" />
<line x1="322.15" y1="165.44" x2="329.35" y2="165.44" stroke="#222" stroke-width="1.05" />
<rect x="320.75" y="181.62" width="10.00" height="68.18" fill="#d3d3d3" stroke="#111" stroke-width="1.1"/>
<line x1="325.75" y1="249.80" x2="325.75" y2="252.00" stroke="#111" stroke-width="0.9" />
<text x="328.35" y="259.90" font-size="7.45" font-weight="bold" text-anchor="end" fill="#111" stroke="#111" stroke-width="0.3" transform="rotate(-45 328.35 259.90)">LPS+ATP<tspan font-weight="normal" stroke-width="0.1" dy="0.8">&#947;</tspan><tspan dy="-0.8">&#8203;</tspan>S</text>
<line x1="340.20" y1="242.21" x2="340.20" y2="244.33" stroke="#222" stroke-width="1.05" />
<line x1="336.60" y1="242.21" x2="343.80" y2="242.21" stroke="#222" stroke-width="1.05" />
<rect x="335.20" y="244.33" width="10.00" height="5.47" fill="#d3d3d3" stroke="#111" stroke-width="1.1"/>
<line x1="340.20" y1="249.80" x2="340.20" y2="252.00" stroke="#111" stroke-width="0.9" />
<text x="342.80" y="259.90" font-size="7.45" font-weight="bold" text-anchor="end" fill="#111" stroke="#111" stroke-width="0.3" transform="rotate(-45 342.80 259.90)">LPS+NECA</text>
<line x1="354.65" y1="232.39" x2="354.65" y2="239.32" stroke="#222" stroke-width="1.05" />
<line x1="351.05" y1="232.39" x2="358.25" y2="232.39" stroke="#222" stroke-width="1.05" />
<rect x="349.65" y="239.32" width="10.00" height="10.48" fill="#d3d3d3" stroke="#111" stroke-width="1.1"/>
<line x1="354.65" y1="249.80" x2="354.65" y2="252.00" stroke="#111" stroke-width="0.9" />
<text x="357.25" y="259.90" font-size="7.45" font-weight="bold" text-anchor="end" fill="#111" stroke="#111" stroke-width="0.3" transform="rotate(-45 357.25 259.90)">LPS+ATP<tspan font-weight="normal" stroke-width="0.1" dy="0.8">&#947;</tspan><tspan dy="-0.8">&#8203;</tspan>S+SURAMIN</text>
<text x="191.90" y="203.20" font-size="7.7" font-weight="bold" text-anchor="middle" fill="#111" stroke="#111" stroke-width="0.120" transform="rotate(-90 191.90 203.20)" textLength="107.20" lengthAdjust="spacingAndGlyphs" >human amphiregulin (pg/mL)</text>
<line x1="225.00" y1="206.30" x2="251.90" y2="206.30" stroke="#444" stroke-width="0.9" />
<text x="232.01" y="203.39" font-family="DejaVu Sans, sans-serif" font-size="4.7" letter-spacing="0.96" fill="#111" stroke="#111" stroke-width="0.35" stroke-linejoin="round">&#9733;&#9733;&#9733;</text>
<line x1="254.00" y1="206.30" x2="281.30" y2="206.30" stroke="#444" stroke-width="0.9" />
<text x="262.56" y="203.39" font-family="DejaVu Sans, sans-serif" font-size="4.7" letter-spacing="0.96" fill="#111" stroke="#111" stroke-width="0.35" stroke-linejoin="round">&#9733;&#9733;</text>
<line x1="294.70" y1="155.20" x2="325.00" y2="155.20" stroke="#444" stroke-width="0.9" />
<text x="306.51" y="152.49" font-family="DejaVu Sans, sans-serif" font-size="4.7" letter-spacing="1.06" fill="#111" stroke="#111" stroke-width="0.35" stroke-linejoin="round">&#9733;&#9733;</text>
<line x1="326.80" y1="155.20" x2="356.00" y2="155.20" stroke="#444" stroke-width="0.9" />
<text x="339.41" y="152.49" font-family="DejaVu Sans, sans-serif" font-size="4.7" letter-spacing="1.06" fill="#111" stroke="#111" stroke-width="0.35" stroke-linejoin="round">&#9733;</text>
</g>
<g id="panelD">
<text x="370.10" y="145.70" font-size="11.8" font-weight="bold" text-anchor="middle" fill="#111" stroke="#111" stroke-width="0.120" >D</text>
<line x1="406.30" y1="160.10" x2="406.30" y2="251.20" stroke="#111" stroke-width="1.1" />
<line x1="405.80" y1="250.70" x2="520.00" y2="250.70" stroke="#111" stroke-width="1.1" />
<line x1="403.80" y1="250.70" x2="406.30" y2="250.70" stroke="#111" stroke-width="0.9" />
<text x="403.00" y="253.04" font-size="6.5" font-weight="bold" text-anchor="end" fill="#111" stroke="#111" stroke-width="0.273" >0</text>
<line x1="404.50" y1="242.59" x2="406.30" y2="242.59" stroke="#111" stroke-width="0.8" />
<line x1="403.80" y1="234.48" x2="406.30" y2="234.48" stroke="#111" stroke-width="0.9" />
<text x="403.00" y="236.82" font-size="6.5" font-weight="bold" text-anchor="end" fill="#111" stroke="#111" stroke-width="0.273" >20</text>
<line x1="404.50" y1="226.37" x2="406.30" y2="226.37" stroke="#111" stroke-width="0.8" />
<line x1="403.80" y1="218.26" x2="406.30" y2="218.26" stroke="#111" stroke-width="0.9" />
<text x="403.00" y="220.60" font-size="6.5" font-weight="bold" text-anchor="end" fill="#111" stroke="#111" stroke-width="0.273" >40</text>
<line x1="404.50" y1="210.15" x2="406.30" y2="210.15" stroke="#111" stroke-width="0.8" />
<line x1="403.80" y1="202.04" x2="406.30" y2="202.04" stroke="#111" stroke-width="0.9" />
<text x="403.00" y="204.38" font-size="6.5" font-weight="bold" text-anchor="end" fill="#111" stroke="#111" stroke-width="0.273" >60</text>
<line x1="404.50" y1="193.93" x2="406.30" y2="193.93" stroke="#111" stroke-width="0.8" />
<line x1="403.80" y1="185.82" x2="406.30" y2="185.82" stroke="#111" stroke-width="0.9" />
<text x="403.00" y="188.16" font-size="6.5" font-weight="bold" text-anchor="end" fill="#111" stroke="#111" stroke-width="0.273" >80</text>
<line x1="404.50" y1="177.71" x2="406.30" y2="177.71" stroke="#111" stroke-width="0.8" />
<line x1="403.80" y1="169.60" x2="406.30" y2="169.60" stroke="#111" stroke-width="0.9" />
<text x="403.00" y="171.94" font-size="6.5" font-weight="bold" text-anchor="end" fill="#111" stroke="#111" stroke-width="0.273" >100</text>
<line x1="404.50" y1="161.49" x2="406.30" y2="161.49" stroke="#111" stroke-width="0.8" />
<line x1="434.85" y1="162.71" x2="434.85" y2="169.36" stroke="#333" stroke-width="0.8" />
<line x1="425.45" y1="162.71" x2="444.25" y2="162.71" stroke="#333" stroke-width="0.9" />
<rect x="415.80" y="169.36" width="38.10" height="81.34" fill="#959595" stroke="#111" stroke-width="1.1"/>
<line x1="490.70" y1="230.10" x2="490.70" y2="238.37" stroke="#333" stroke-width="0.8" />
<line x1="481.30" y1="230.10" x2="500.10" y2="230.10" stroke="#333" stroke-width="0.9" />
<rect x="471.80" y="238.37" width="37.80" height="12.33" fill="#d2d2d2" stroke="#111" stroke-width="1.1"/>
<line x1="431.30" y1="159.40" x2="487.10" y2="159.40" stroke="#222" stroke-width="1.1" />
<text x="453.91" y="158.19" font-family="DejaVu Sans, sans-serif" font-size="4.7" letter-spacing="0.31" fill="#111" stroke="#111" stroke-width="0.35" stroke-linejoin="round">&#9733;&#9733;&#9733;</text>
<text x="434.20" y="258.50" font-size="5.8" font-weight="bold" text-anchor="middle" fill="#111" stroke="#111" stroke-width="0.244" textLength="39.20" lengthAdjust="spacingAndGlyphs" >LPS + ATP<tspan font-weight="normal" stroke-width="0.1" dy="0.8">&#947;</tspan><tspan dy="-0.8">&#8203;</tspan>S</text>
<text x="490.70" y="258.50" font-size="5.8" font-weight="bold" text-anchor="middle" fill="#111" stroke="#111" stroke-width="0.244" textLength="38.80" lengthAdjust="spacingAndGlyphs" >LPS + ATP<tspan font-weight="normal" stroke-width="0.1" dy="0.8">&#947;</tspan><tspan dy="-0.8">&#8203;</tspan>S</text>
<text x="385.80" y="205.20" font-size="6.1" font-weight="bold" text-anchor="middle" fill="#111" stroke="#111" stroke-width="0.256" transform="rotate(-90 385.80 205.20)" textLength="71.10" lengthAdjust="spacingAndGlyphs" >HA-VSMC growth (%)</text>
<text x="391.00" y="274.00" font-size="6.3" font-weight="normal" text-anchor="middle" fill="#111" stroke="#111" stroke-width="0.139" textLength="49.50" lengthAdjust="spacingAndGlyphs" >Anti-Amphiregulin</text>
<text x="391.40" y="281.40" font-size="6.3" font-weight="normal" text-anchor="middle" fill="#111" stroke="#111" stroke-width="0.139" textLength="23.00" lengthAdjust="spacingAndGlyphs" >antibody</text>
<text x="440.00" y="277.60" font-size="7.5" font-weight="bold" text-anchor="middle" fill="#111" stroke="#111" stroke-width="0.120" >-</text>
<text x="492.60" y="278.60" font-size="6.6" font-weight="bold" text-anchor="middle" fill="#111" stroke="#111" stroke-width="0.277" >+</text>
</g>
</svg>
</body>
</html>
